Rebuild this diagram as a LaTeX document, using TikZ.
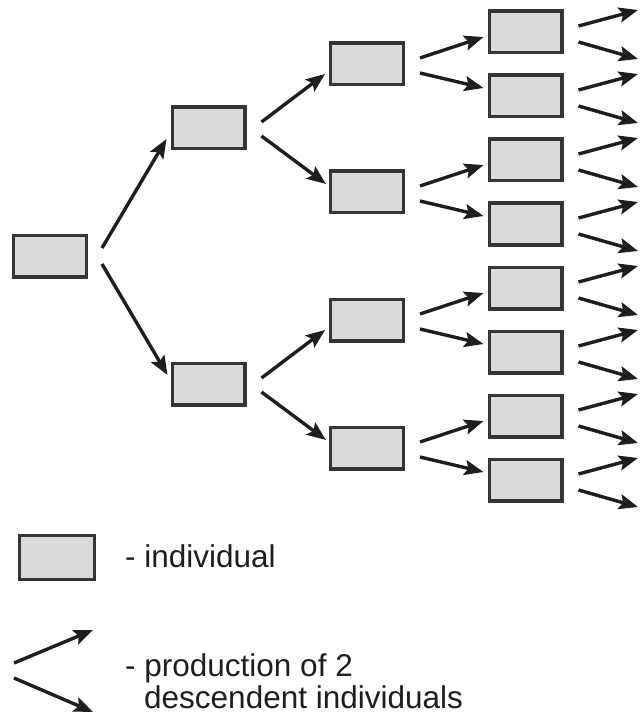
\documentclass[tikz,border=0pt]{standalone}
\usepackage{fontspec}
\setmainfont{Liberation Sans}
\usetikzlibrary{arrows.meta}
\definecolor{boxfill}{RGB}{218,218,220}
\definecolor{ink}{RGB}{30,30,30}
\begin{document}
\begin{tikzpicture}[x=1pt,y=-1pt,
  ind/.style={draw=ink!90, fill=boxfill, line width=3.4pt, minimum width=72.6pt,
    minimum height=41.6pt, inner sep=0pt},
  arr/.style={draw=ink, line width=3.4pt,
    -{Stealth[length=19pt,width=15pt,inset=3.5pt]}},
  lbl/.style={font=\fontsize{31.5}{31.5}\selectfont, text=ink, inner sep=0pt,
    anchor=base west, align=left}]
\useasboundingbox (0,0) rectangle (640,719);

% generations of individuals
\node[ind] (g0) at (50,256) {};
\node[ind] (g1a) at (208.5,128) {};
\node[ind] (g1b) at (208.5,384) {};
\foreach \i/\y in {a/64,b/192,c/320,d/448}
  \node[ind] (g2\i) at (367,\y) {};
\foreach \i/\y in {a/32,b/96,c/160,d/224,e/288,f/352,g/416,h/480}
  \node[ind] (g3\i) at (525.5,\y) {};

% each individual produces two descendents
\draw[arr] ([xshift=14pt,yshift=8pt]g0.east) -- ([xshift=-4pt,yshift=-11pt]g1a.west);
\draw[arr] ([xshift=14pt,yshift=-8pt]g0.east) -- ([xshift=-3pt,yshift=9pt]g1b.west);

\foreach \p/\a/\b in {g1a/g2a/g2b, g1b/g2c/g2d} {
  \draw[arr] ([xshift=15pt,yshift=6pt]\p.east) -- ([xshift=-4pt,yshift=-10pt]\a.west);
  \draw[arr] ([xshift=15pt,yshift=-8pt]\p.east) -- ([xshift=-3pt,yshift=8pt]\b.west);
}

\foreach \p/\a/\b in {g2a/g3a/g3b, g2b/g3c/g3d, g2c/g3e/g3f, g2d/g3g/g3h} {
  \draw[arr] ([xshift=15pt,yshift=6pt]\p.east) -- ([xshift=-4pt,yshift=-5pt]\a.west);
  \draw[arr] ([xshift=15pt,yshift=-9pt]\p.east) -- ([xshift=-4pt,yshift=8pt]\b.west);
}

% next generation, beyond the edge
\foreach \i/\y in {a/32,b/96,c/160,d/224,e/288,f/352,g/416,h/480} {
  \coordinate (u\i) at (638,\y-22);
  \coordinate (d\i) at (638,\y+27);
  \draw[arr] ([xshift=15pt,yshift=6pt]g3\i.east) -- (u\i);
  \draw[arr] ([xshift=15pt,yshift=-10pt]g3\i.east) -- (d\i);
}

% legend
\node[ind, minimum width=74.6pt, minimum height=43.6pt] (key) at (57,557.5) {};
\node[lbl] (keytext) at (125,567) {- individual};

\coordinate (la0) at (14,663);
\coordinate (la1) at (93,630);
\coordinate (lb0) at (14,678);
\coordinate (lb1) at (93,712);
\draw[arr] (la0) -- (la1);
\draw[arr] (lb0) -- (lb1);
\node[lbl] (arrtext) at (125,708) {- production of 2\\\hspace*{19pt}descendent individuals};
\end{tikzpicture}
\end{document}
